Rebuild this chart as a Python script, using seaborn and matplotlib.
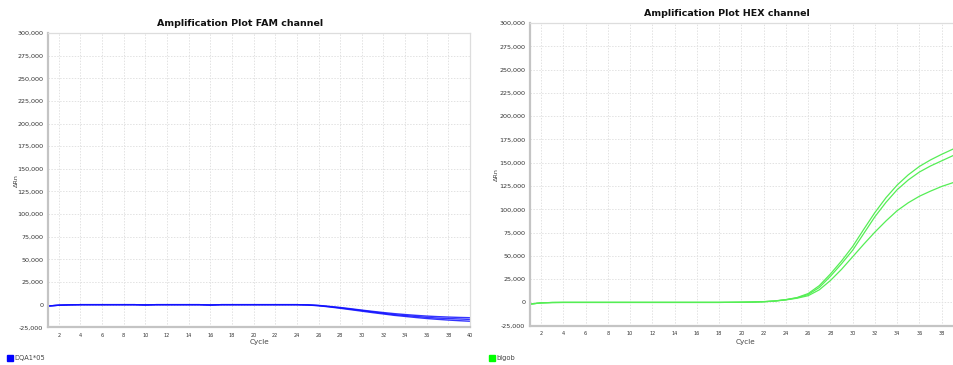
import numpy as np
import pandas as pd
import matplotlib
matplotlib.use("Agg")
import matplotlib.pyplot as plt
import seaborn as sns
from matplotlib.patches import Patch
from matplotlib.ticker import FuncFormatter, MultipleLocator

# ---- data -------------------------------------------------------------
cycles = list(range(1, 41))

fam_well_a = [-1500, -600, -200, 0, 0, 0, 0, 0, 0, -300, 0, 0, 0, 0, 0, -400, 0, 0, 0, 0,
              0, 0, 0, 0, -300, -1000, -2200, -3500, -5000, -6500, -8000, -9500, -11000,
              -12000, -13000, -14000, -14800, -15300, -15800, -16300]
fam_well_b = [-1500, -600, -200, 0, 0, 0, 0, 0, 0, -300, 0, 0, 0, 0, 0, -400, 0, 0, 0, 0,
              0, 0, 0, 0, -200, -800, -1900, -3100, -4500, -6000, -7400, -8700, -9900,
              -10900, -11800, -12600, -13200, -13700, -14100, -14400]
fam_well_c = [-1500, -600, -200, 0, 0, 0, 0, 0, 0, -300, 0, 0, 0, 0, 0, -400, 0, 0, 0, 0,
              0, 0, 0, 0, -400, -1200, -2500, -4000, -5600, -7200, -8800, -10300, -11800,
              -13000, -14200, -15300, -16200, -17000, -17700, -18300]

hex_well_a = [-1800, -500, -100, 0, 0, 0, 0, 0, 0, 0, 0, 0, 0, 0, 0, 0, 0, 0, 100, 200,
              400, 800, 1600, 3000, 5200, 9500, 18000, 30500, 44500, 60000, 78500, 96500,
              112500, 126000, 137000, 146000, 153000, 159000, 164500, 170000]
hex_well_b = [-1800, -500, -100, 0, 0, 0, 0, 0, 0, 0, 0, 0, 0, 0, 0, 0, 0, 0, 100, 200,
              400, 800, 1500, 2900, 4900, 8500, 16000, 28000, 41500, 56000, 74000, 92000,
              107500, 121000, 131500, 140000, 146500, 152000, 157500, 162500]
hex_well_c = [-1800, -500, -100, 0, 0, 0, 0, 0, 0, 0, 0, 0, 0, 0, 0, 0, 0, 0, 100, 200,
              400, 700, 1400, 2700, 4500, 7200, 13500, 23500, 35500, 49000, 62500, 75500,
              87500, 98500, 107000, 114000, 119500, 124500, 128500, 132500]

fam_target = "DQA1*05"
hex_target = "blgob"


def long_frame(wells):
    rows = []
    for name, vals in wells.items():
        for c, v in zip(cycles, vals):
            rows.append({"cycle": c, "drn": v, "well": name})
    return pd.DataFrame(rows)


fam_df = long_frame({"A": fam_well_a, "B": fam_well_b, "C": fam_well_c})
hex_df = long_frame({"A": hex_well_a, "B": hex_well_b, "C": hex_well_c})

# ---- figure -----------------------------------------------------------
sns.set_style("white")
plt.rcParams["font.family"] = ["DejaVu Sans"]

W, H = 954, 365
fig = plt.figure(figsize=(W / 100, H / 100), dpi=100)


def px_axes(x0, y0, x1, y1):
    return fig.add_axes([x0 / W, 1 - y1 / H, (x1 - x0) / W, (y1 - y0) / H])


ax_fam = px_axes(48, 33, 470, 327.3)
ax_hex = px_axes(530, 23, 955, 325.7)

thousands = FuncFormatter(lambda v, p: f"{int(v):,}")


def style(ax, xmax):
    ax.set_xlim(1, xmax)
    ax.set_ylim(-25000, 300000)
    ax.xaxis.set_major_locator(MultipleLocator(2))
    ax.yaxis.set_major_locator(MultipleLocator(25000))
    ax.yaxis.set_major_formatter(thousands)
    ax.grid(True, color="#e2e2e2", linestyle=(0, (1.5, 1.5)), linewidth=0.7)
    ax.set_axisbelow(True)
    ax.tick_params(axis="y", labelsize=4.6, colors="#444444", length=2, width=0.5, pad=1.5)
    ax.tick_params(axis="x", labelsize=3.6, colors="#444444", length=2, width=0.5, pad=2)
    for lab in ax.get_xticklabels() + ax.get_yticklabels():
        lab.set_color("#333333")
    for side in ("left", "bottom"):
        ax.spines[side].set_color("#c4c4c4")
        ax.spines[side].set_linewidth(1.6)
    for side in ("top", "right"):
        ax.spines[side].set_color("#dddddd")
        ax.spines[side].set_linewidth(0.9)
    ax.set_xlabel("")
    ax.set_ylabel("")


sns.lineplot(data=fam_df, x="cycle", y="drn", units="well", estimator=None,
             color="#1010ff", linewidth=1.0, alpha=0.85, ax=ax_fam, legend=False)
sns.lineplot(data=hex_df, x="cycle", y="drn", units="well", estimator=None,
             color="#55ee55", linewidth=0.9, ax=ax_hex, legend=False)

style(ax_fam, 40)
style(ax_hex, 39.2)

# titles and axis captions
fig.text(240 / W, 1 - 24 / H, "Amplification Plot FAM channel", ha="center", va="center",
         fontsize=6.8, fontweight="bold", color="#111111")
fig.text(727 / W, 1 - 14 / H, "Amplification Plot HEX channel", ha="center", va="center",
         fontsize=6.8, fontweight="bold", color="#111111")

for cx in (259, 746):
    fig.text(cx / W, 1 - 342 / H, "Cycle", ha="center", va="center", fontsize=5.2,
             color="#444444")
fig.text(16 / W, 1 - 181 / H, "ΔRn", rotation=90, ha="center", va="center",
         fontsize=4.6, color="#444444")
fig.text(496 / W, 1 - 175 / H, "ΔRn", rotation=90, ha="center", va="center",
         fontsize=4.6, color="#444444")

# series keys under each panel
fig.legend(handles=[Patch(color="#0000ff")], labels=[fam_target], loc="center left",
           bbox_to_anchor=(4 / W, 1 - 358 / H), frameon=False, fontsize=4.8,
           handlelength=0.9, handleheight=0.9, handletextpad=0.3, borderaxespad=0,
           labelcolor="#444444")
fig.legend(handles=[Patch(color="#00ff00")], labels=[hex_target], loc="center left",
           bbox_to_anchor=(486 / W, 1 - 358 / H), frameon=False, fontsize=4.8,
           handlelength=0.9, handleheight=0.9, handletextpad=0.3, borderaxespad=0,
           labelcolor="#444444")

fig.savefig("out.png", dpi=100, facecolor="white")
